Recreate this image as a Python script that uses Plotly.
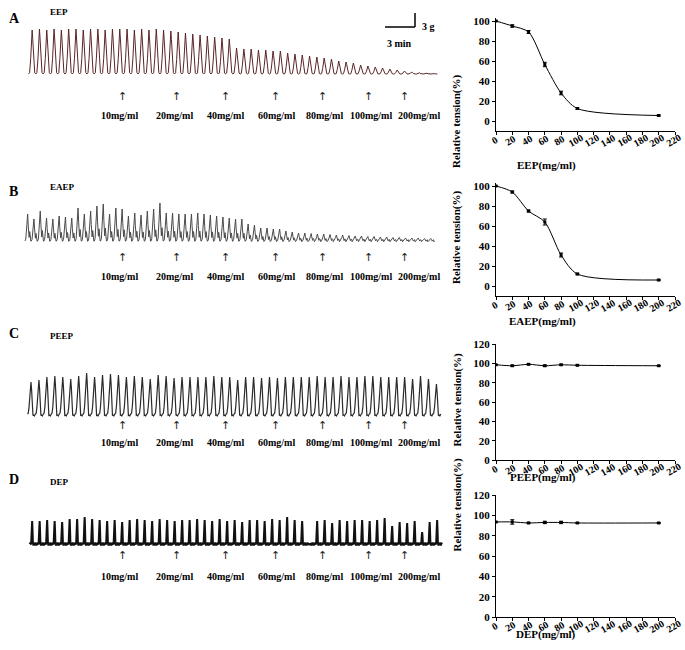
import plotly.graph_objects as go

W, H = 685, 650
FONT = "Liberation Serif, Times New Roman, serif"


def px_x(x):
    return x / W


def px_y(y):
    return 1 - y / H


# ---------------- dose-response data (right panels) ----------------
conc = [0, 20, 40, 60, 80, 100, 200]
eep = [100, 95, 89, 56.5, 28, 12.5, 5.5]
eep_err = [0, 1.2, 1.5, 2.2, 1.8, 0.8, 0.6]
eaep = [100, 94, 75, 64, 31, 12, 6]
eaep_err = [0, 1.0, 1.0, 3.0, 2.0, 0.8, 0.6]
peep = [98.5, 97.5, 99, 97.5, 98.5, 98, 97.5]
peep_err = [0, 0.6, 0.6, 0.8, 0.6, 0.5, 0.4]
dep = [93.5, 93.5, 92.5, 93, 93, 92.5, 92.5]
dep_err = [0, 2.2, 0.6, 1.2, 1.2, 0.5, 0.4]
x_ticks = [0, 20, 40, 60, 80, 100, 120, 140, 160, 180, 200, 220]
y_ticks_a = [0, 20, 40, 60, 80, 100]
y_ticks_c = [0, 20, 40, 60, 80, 100, 120]

# ---------------- recording data (left panels) ----------------
doses = ["10mg/ml", "20mg/ml", "40mg/ml", "60mg/ml", "80mg/ml", "100mg/ml", "200mg/ml"]
dose_times = [12.2, 17.6, 22.5, 27.5, 32.2, 36.8, 40.4]  # min on the recording
dose_label_shift = [-3, -2, 0, 1, 2, 3, 15]  # px

# peak amplitudes of each contraction (recorder deflection units)
eep_amps = [44, 45, 44, 45, 44, 45, 45, 44, 45, 45, 44, 45, 45, 45, 44, 45, 44, 45, 44,
            43, 42, 41, 40, 39, 38, 37, 36, 35,
            26, 25, 25, 24, 24, 23, 23, 21, 20, 19, 18, 17, 16, 15, 13, 12, 11, 9, 8, 7, 6, 5, 4, 3,
            2, 1.5, 1, 0.5]
eaep_amps = [27, 22, 30, 23, 22, 25, 24, 23, 33, 27, 30, 35, 37, 27, 33, 32, 25, 28, 26, 30,
             32, 38, 28, 28, 27, 27, 27, 28, 27, 26, 25, 24, 23, 22, 22,
             17, 16, 13, 13, 12, 12, 10, 9, 8, 8, 7.5, 7, 7, 6.5, 6, 6,
             5.5, 5, 5, 4.5, 4.5, 4, 4, 3.5, 3.5, 3, 3, 3, 2.5, 2.5]
peep_amps = [32, 34, 37, 38, 37, 35, 38, 41, 37, 39,
             40, 39, 37, 38, 37, 35, 39, 38, 36, 37,
             37, 37, 37, 38, 37, 37, 34, 37, 37, 36,
             37, 36, 37, 37, 37, 37, 38, 37, 37, 38,
             37, 37, 38, 38, 37, 37, 37, 37, 35, 38,
             35, 30]
dep_amps = [23, 23, 24, 23, 22, 25, 25, 27, 25, 24,
            23, 24, 22, 24, 25, 24, 23, 25, 24, 23,
            24, 24, 25, 24, 23, 25, 23, 24, 22, 24,
            24, 23, 25, 24, 27, 24, 23, 0, 23, 24,
            21, 24, 23, 24, 24, 23, 24, 26, 18, 22,
            21, 23, 12, 22, 24]

# single-contraction shape templates (fraction of period, fraction of amplitude, baseline ripple)
tmpl_a = ([0, 0.15, 0.3, 0.42, 0.5, 0.58, 0.72, 0.85],
          [0, 0.03, 0.35, 0.85, 1.0, 0.8, 0.25, 0.03],
          [0, 0, 0, 0, 0, 0, 0, 0])
tmpl_b = ([0, 0.12, 0.3, 0.42, 0.52, 0.65, 0.75, 0.85, 0.93],
          [0, 0.05, 0.6, 1.0, 0.55, 0.15, 0.35, 0.1, 0.02],
          [0, 0.5, 0, 0, 0, -0.5, 0, 1, -0.8])
tmpl_c = ([0, 0.1, 0.2, 0.3, 0.38, 0.45, 0.53, 0.62, 0.7, 0.78, 0.88],
          [0, 0.02, 0.2, 0.65, 0.93, 1.0, 0.75, 0.25, 0.03, 0, 0],
          [0, 0, 0, 0, 0, 0, 0, 0, -2.5, -1, -2])
tmpl_d = ([0, 0.1, 0.2, 0.3, 0.34, 0.38, 0.44, 0.52, 0.6, 0.68, 0.76, 0.84, 0.92],
          [0, 0, 0.02, 0.75, 1.0, 0.7, 0.05, 0, 0, 0, 0, 0, 0],
          [0, 1.2, -1, 0, 0, 0, 0, -1.5, 1.2, -1.2, 1.5, -1.5, 1])


def build_recording(t0, period, amps, tmpl):
    sx, sy, rr = tmpl
    xs, ys = [], []
    for i, a in enumerate(amps):
        for fx, fy, r in zip(sx, sy, rr):
            xs.append(t0 + (i + fx) * period)
            ys.append(a * fy + r)
    xs.append(t0 + len(amps) * period)
    ys.append(0)
    return xs, ys


recordings = [
    dict(letter="A", name="EEP", t0=2.85, period=0.73, amps=eep_amps, tmpl=tmpl_a,
         color="#5a2525", width=1.0, dom=(20, 80), base=74, arrow_y=88, label_y=108, head_y=(9, 5)),
    dict(letter="B", name="EAEP", t0=2.5, period=0.63, amps=eaep_amps, tmpl=tmpl_b,
         color="#4a4a4a", width=1.0, dom=(195, 250), base=241, arrow_y=257, label_y=277, head_y=(182, 180)),
    dict(letter="C", name="PEEP", t0=2.74, period=0.795, amps=peep_amps, tmpl=tmpl_c,
         color="#2a2a2a", width=1.2, dom=(368, 425), base=414, arrow_y=434, label_y=450, head_y=(333, 336)),
    dict(letter="D", name="DEP", t0=2.96, period=0.75, amps=dep_amps, tmpl=tmpl_d,
         color="#111111", width=2.0, dom=(508, 556), base=544, arrow_y=564, label_y=584, head_y=(489, 489)),
]

panels = [
    dict(y=eep, err=eep_err, title="EEP(mg/ml)", dom=(18, 131), yr=[-10, 103], yt=y_ticks_a),
    dict(y=eaep, err=eaep_err, title="EAEP(mg/ml)", dom=(183, 296), yr=[-10, 103], yt=y_ticks_a),
    dict(y=peep, err=peep_err, title="PEEP(mg/ml)", dom=(344, 460), yr=[0, 120], yt=y_ticks_c),
    dict(y=dep, err=dep_err, title="DEP(mg/ml)", dom=(495, 617), yr=[0, 120], yt=y_ticks_c),
]

fig = go.Figure()
layout = dict(width=W, height=H, autosize=False,
              margin=dict(l=0, r=0, t=0, b=0, pad=0, autoexpand=False),
              paper_bgcolor="white", plot_bgcolor="rgba(0,0,0,0)", showlegend=False,
              font=dict(family=FONT, size=11, color="black"))
annotations = []
shapes = []

bold = dict(family=FONT, color="black", weight="bold")

for k, rec in enumerate(recordings, start=1):
    xs, ys = build_recording(rec["t0"], rec["period"], rec["amps"], rec["tmpl"])
    fig.add_trace(go.Scatter(x=xs, y=ys, mode="lines", xaxis=f"x{k}", yaxis=f"y{k}",
                             line=dict(color=rec["color"], width=rec["width"]), hoverinfo="skip"))
    top, bot = rec["dom"]
    layout[f"xaxis{k}"] = dict(domain=[0, px_x(450)], range=[0, 45], visible=False,
                               anchor=f"y{k}", fixedrange=True, automargin=False)
    layout[f"yaxis{k}"] = dict(domain=[px_y(bot), px_y(top)],
                               range=[-(bot - rec["base"]), rec["base"] - top],
                               visible=False, anchor=f"x{k}", fixedrange=True, automargin=False)
    # panel letter and name
    annotations.append(dict(x=px_x(7), y=px_y(rec["head_y"][0]), xref="paper", yref="paper",
                            text=rec["letter"], showarrow=False, font=dict(**bold, size=14)))
    annotations.append(dict(x=px_x(48), y=px_y(rec["head_y"][1]), xref="paper", yref="paper",
                            text=rec["name"], showarrow=False, font=dict(**bold, size=9)))
    # dose arrows and labels
    for t, lab, sh in zip(dose_times, doses, dose_label_shift):
        annotations.append(dict(x=t, xref=f"x{k}", y=px_y(rec["arrow_y"]), yref="paper",
                                text="↑", showarrow=False,
                                font=dict(family="DejaVu Sans", size=11, color="#222222")))
        annotations.append(dict(x=t, xref=f"x{k}", y=px_y(rec["label_y"]), yref="paper",
                                xshift=sh, text=lab, showarrow=False, font=dict(**bold, size=10)))

for j, p in enumerate(panels):
    k = j + 5
    fig.add_trace(go.Scatter(
        x=conc, y=p["y"], mode="lines+markers", xaxis=f"x{k}", yaxis=f"y{k}",
        line=dict(color="black", width=1, shape="spline", smoothing=0.8),
        marker=dict(symbol="square", size=3, color="black"),
        error_y=dict(type="data", array=p["err"], width=2, thickness=1, color="black"),
        hoverinfo="skip"))
    top, bot = p["dom"]
    layout[f"xaxis{k}"] = dict(domain=[px_x(496), px_x(675)], range=[0, 220], tickvals=x_ticks,
                               showticklabels=False, showline=True, linecolor="black", linewidth=1,
                               ticks="outside", ticklen=3, tickcolor="black", showgrid=False,
                               zeroline=False, anchor=f"y{k}", fixedrange=True, automargin=False)
    layout[f"yaxis{k}"] = dict(domain=[px_y(bot), px_y(top)], range=p["yr"], tickvals=p["yt"],
                               showline=True, linecolor="black", linewidth=1, ticks="outside",
                               ticklen=3, tickcolor="black", showgrid=False, zeroline=False,
                               anchor=f"x{k}", fixedrange=True, automargin=False,
                               tickfont=dict(**bold, size=11))
    for v in x_ticks:
        annotations.append(dict(x=v, xref=f"x{k}", y=px_y(bot), yref="paper", yshift=-9,
                                xshift=-2, text=str(v), textangle=-30, showarrow=False,
                                xanchor="center", yanchor="middle",
                                font=dict(**bold, size=10)))
    annotations.append(dict(x=px_x(578), y=px_y(bot + 26), xref="paper", yref="paper",
                            text=p["title"], showarrow=False, font=dict(**bold, size=11)))
    annotations.append(dict(x=px_x(465), y=px_y((top + bot) / 2 - 3), xref="paper", yref="paper",
                            text="Relative tension(%)", textangle=-90, showarrow=False,
                            font=dict(**bold, size=11)))

# scale bar (3 g / 3 min)
shapes.append(dict(type="line", xref="paper", yref="paper", x0=px_x(415), x1=px_x(415),
                   y0=px_y(13), y1=px_y(27), line=dict(color="black", width=1.5)))
shapes.append(dict(type="line", xref="paper", yref="paper", x0=px_x(385), x1=px_x(415),
                   y0=px_y(27), y1=px_y(27), line=dict(color="black", width=1.5)))
annotations.append(dict(x=px_x(428), y=px_y(19), xref="paper", yref="paper", text="3 g",
                        showarrow=False, font=dict(**bold, size=10)))
annotations.append(dict(x=px_x(400), y=px_y(36), xref="paper", yref="paper", text="3 min",
                        showarrow=False, font=dict(**bold, size=10)))

layout["annotations"] = annotations
layout["shapes"] = shapes
fig.update_layout(**layout)
fig.write_html("out.html", config={"displayModeBar": False, "staticPlot": True},
               post_script="document.body.style.margin='0px';document.body.style.overflow='hidden';")
